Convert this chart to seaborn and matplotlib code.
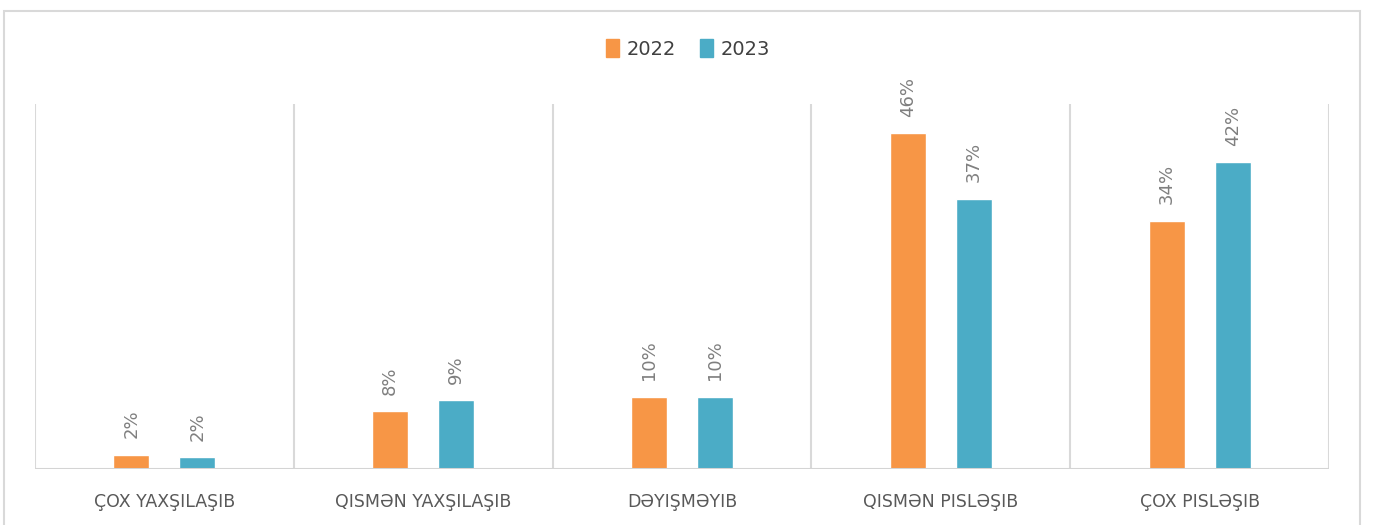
import matplotlib
matplotlib.use("Agg")
import matplotlib.pyplot as plt
import matplotlib.patches as mpatches
import seaborn as sns
import pandas as pd

categories = ["ÇOX YAXŞILAŞIB", "QISMƏN YAXŞILAŞIB", "DƏYIŞMƏYIB", "QISMƏN PISLƏŞIB", "ÇOX PISLƏŞIB"]
years = ["2022", "2023"]
values_2022 = [1.9, 7.9, 9.9, 46.0, 34.0]
values_2023 = [1.6, 9.4, 9.9, 37.0, 42.0]

sns.set_theme(style="white")
plt.rcParams["font.family"] = ["DejaVu Sans"]

df = pd.DataFrame({
    "cat": categories * 2,
    "year": [years[0]] * len(categories) + [years[1]] * len(categories),
    "value": values_2022 + values_2023,
})

W, H = 1376, 525
fig = plt.figure(figsize=(W / 100, H / 100), dpi=100)
fig.patch.set_facecolor("white")
ax = fig.add_axes([35 / W, 1 - 469 / H, (1329 - 35) / W, (469 - 104) / H])

colors = ["#F79646", "#4BACC6"]
sns.barplot(data=df, x="cat", y="value", hue="year", order=categories,
            hue_order=years, palette=colors, width=0.51, gap=0.455,
            saturation=1, ax=ax, legend=False)

for cont in ax.containers:
    labels = [f"{b.get_height():.0f}%" for b in cont]
    ax.bar_label(cont, labels=labels, rotation=90, padding=12,
                 color="#7f7f7f", fontsize=13)

ax.set_xlim(-0.5, len(categories) - 0.5)
ax.set_ylim(0, 50)
for xb in range(len(categories) + 1):
    ax.axvline(xb - 0.5, color="#d9d9d9", lw=1.5, zorder=0)
ax.axhline(0, color="#d4d4d4", lw=2.2, zorder=3)
for s in ax.spines.values():
    s.set_visible(False)
ax.set_yticks([])
ax.set_xlabel("")
ax.set_ylabel("")
ax.tick_params(axis="x", length=0, pad=17, labelsize=12.5, labelcolor="#595959")

handles = [mpatches.Patch(color=c, label=y) for c, y in zip(colors, years)]
fig.legend(handles=handles, loc="center", bbox_to_anchor=(0.5, 1 - 49 / H),
           ncol=2, frameon=False, fontsize=14, handlelength=0.7,
           handleheight=1.0, handletextpad=0.4, columnspacing=1.2,
           labelcolor="#404040")

fig.add_artist(mpatches.Rectangle((4 / W, -0.05), (1360 - 4) / W, 1.05 - 11 / H,
                                  transform=fig.transFigure, fill=False,
                                  edgecolor="#d9d9d9", lw=1.5))

fig.savefig("out.png", dpi=100, facecolor="white")
